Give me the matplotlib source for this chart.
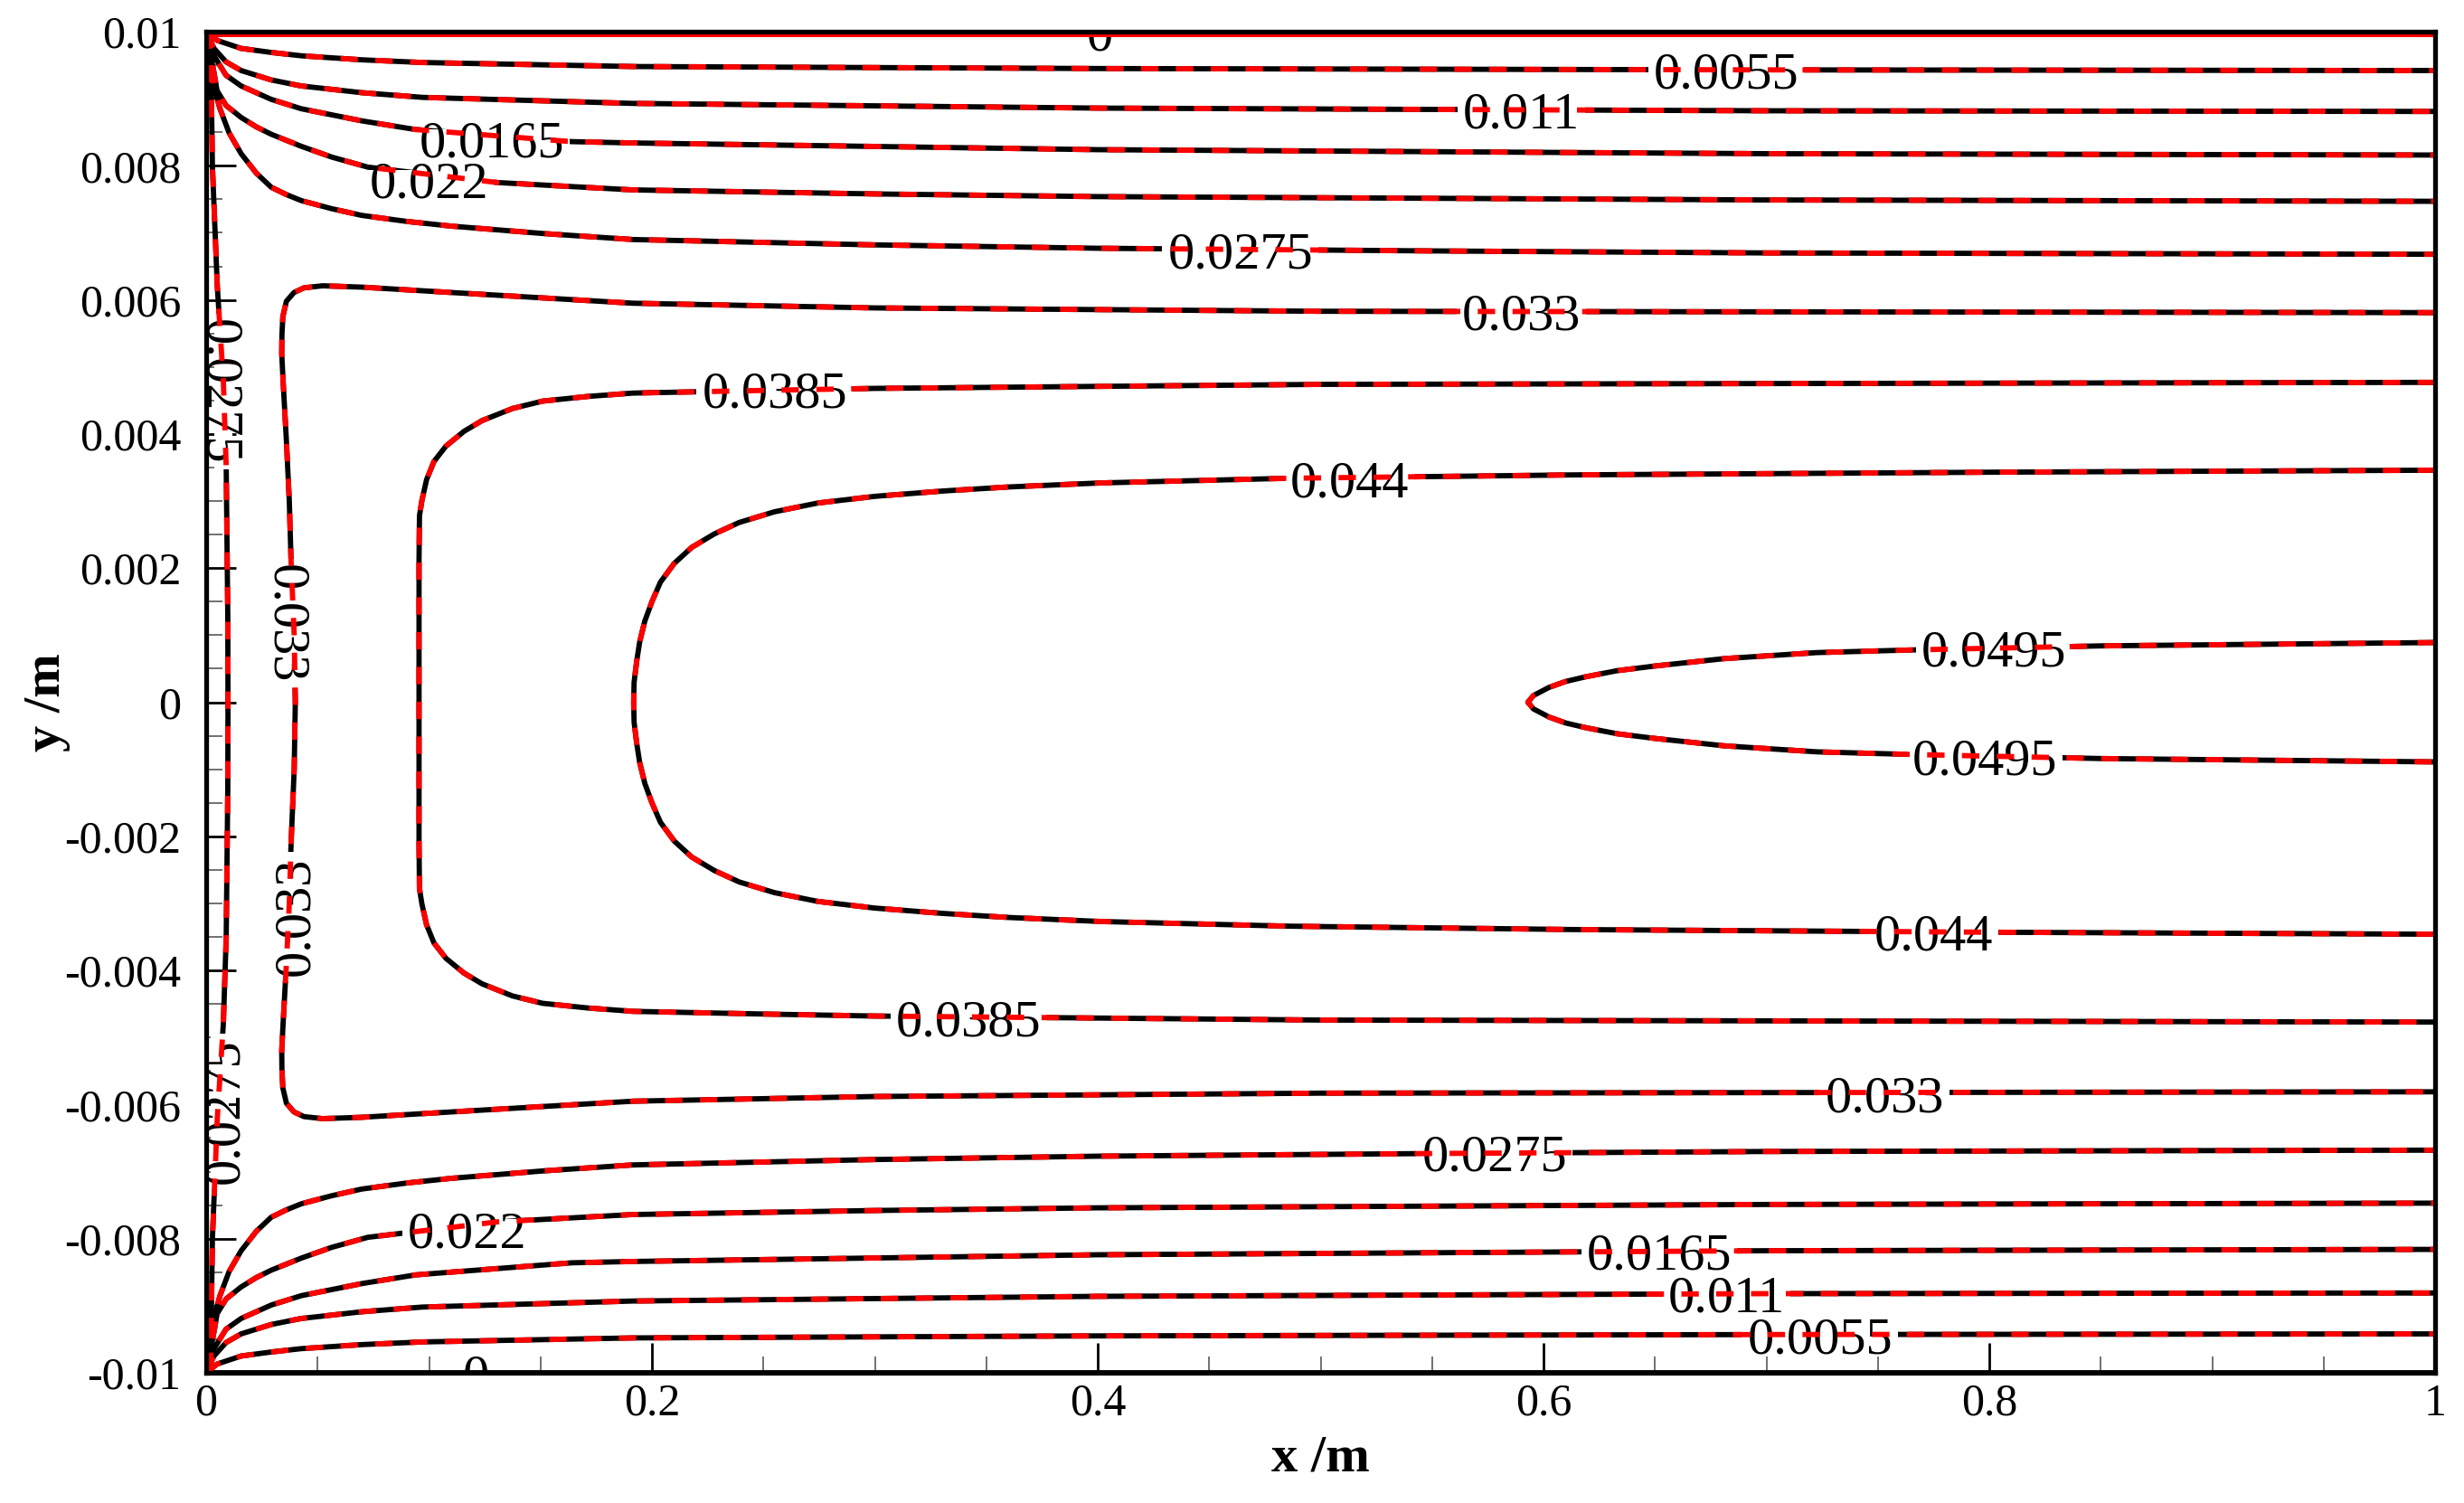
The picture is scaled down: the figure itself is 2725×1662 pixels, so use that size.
import matplotlib
matplotlib.use("Agg")
import matplotlib.pyplot as plt
from matplotlib.patches import Rectangle
from matplotlib.ticker import FixedLocator, MultipleLocator

plt.rcParams['font.family'] = ['Liberation Serif', 'DejaVu Serif']
plt.rcParams['axes.unicode_minus'] = False

# contour levels of the velocity field (m/s)
levels = [0.0, 0.0055, 0.011, 0.0165, 0.022, 0.0275, 0.033, 0.0385, 0.044, 0.0495]

# upper half of each contour line (lower half is the mirror image)
# lines that leave the inlet corner (0, 0.01)
c0055_x = [0.0, 0.0049, 0.0157, 0.0292, 0.0427, 0.0698, 0.097, 0.1915, 0.4, 0.7, 1.0]
c0055_y = [0.0100, 0.00987, 0.00975, 0.00969, 0.00964, 0.00958, 0.00954, 0.00948, 0.00945, 0.00943, 0.00942]
c011_x = [0.0, 0.0035, 0.0089, 0.0157, 0.0292, 0.0427, 0.0698, 0.097, 0.1915, 0.4, 0.7, 1.0]
c011_y = [0.0100, 0.00975, 0.00955, 0.00942, 0.00928, 0.00919, 0.00909, 0.00902, 0.00893, 0.00886, 0.00882, 0.00881]
c0165_x = [0.0, 0.0022, 0.0089, 0.0157, 0.0292, 0.0427, 0.0698, 0.094, 0.164, 0.1915, 0.4, 0.7, 1.0]
c0165_y = [0.0100, 0.00971, 0.00935, 0.00919, 0.00899, 0.00885, 0.00867, 0.00854, 0.00836, 0.00834, 0.00824, 0.00818, 0.00816]
c022_x = [0.0, 0.0018, 0.0035, 0.0049, 0.0089, 0.0157, 0.0225, 0.0292, 0.0427, 0.0563, 0.0725, 0.1306,
          0.1915, 0.3, 0.4, 0.7, 1.0]
c022_y = [0.0100, 0.0097, 0.00939, 0.00912, 0.0089, 0.00872, 0.00858, 0.00847, 0.00829, 0.00813, 0.00798, 0.00775,
          0.00764, 0.00758, 0.00754, 0.00749, 0.00747]
c0275_x = [0.0, 0.0012, 0.0022, 0.0035, 0.0062, 0.0103, 0.0157, 0.0225, 0.0292, 0.036, 0.0427, 0.0563, 0.0698,
           0.090, 0.110, 0.151, 0.1915, 0.3, 0.4, 0.55, 0.7, 1.0]
c0275_y = [0.0100, 0.0098, 0.00953, 0.00917, 0.00885, 0.00849, 0.00818, 0.00789, 0.00768, 0.00757, 0.00748,
           0.00736, 0.00726, 0.00717, 0.0071, 0.00699, 0.0069, 0.00682, 0.00677, 0.00673, 0.0067, 0.00668]

# lines that cross the centreline y = 0 (listed from the centreline upward)
c0275v_x = [0.0098, 0.0097, 0.009, 0.0077, 0.005, 0.0028, 0.002, 0.0]
c0275v_y = [0.0, 0.0013, 0.0035, 0.0048, 0.0062, 0.0080, 0.0099, 0.0100]
c033_x = [0.040, 0.0395, 0.0381, 0.0373, 0.036, 0.0345, 0.0339, 0.034, 0.0344, 0.036, 0.0394, 0.0439, 0.0522,
          0.0698, 0.110, 0.1915, 0.3, 0.5, 1.0]
c033_y = [0.0, 0.0010, 0.0021, 0.0030, 0.0039, 0.0048, 0.0052, 0.00548, 0.00575, 0.00598, 0.00611, 0.00618,
          0.00621, 0.00619, 0.00611, 0.00595, 0.00588, 0.00583, 0.00581]
c0385_x = [0.0955, 0.0955, 0.0957, 0.0968, 0.0989, 0.1022, 0.1076, 0.1157, 0.1238, 0.1374, 0.1509, 0.1712,
           0.1915, 0.25, 0.3, 0.5, 1.0]
c0385_y = [0.0, 0.00211, 0.00278, 0.00301, 0.00332, 0.00359, 0.00382, 0.00404, 0.0042, 0.00438, 0.00449,
           0.00456, 0.00461, 0.00465, 0.00468, 0.00474, 0.00477]
c044_x = [0.1918, 0.1920, 0.1932, 0.1945, 0.1968, 0.2000, 0.2038, 0.2100, 0.2179, 0.2280, 0.2391, 0.2550,
          0.2743, 0.3000, 0.3307, 0.3600, 0.4013, 0.486, 0.613, 0.8, 1.0]
c044_y = [0.0, 0.0003, 0.00062, 0.0009, 0.00121, 0.0015, 0.00179, 0.00207, 0.00231, 0.00251, 0.00268, 0.00284,
          0.00297, 0.00307, 0.00315, 0.00321, 0.00327, 0.00334, 0.00339, 0.00343, 0.00346]
c0495_x = [0.593, 0.5955, 0.6024, 0.610, 0.619, 0.633, 0.650, 0.681, 0.7226, 0.766, 0.85, 1.0]
c0495_y = [0.0, 0.0001, 0.00022, 0.00031, 0.00038, 0.00047, 0.00054, 0.00065, 0.00074, 0.00078, 0.00084, 0.00089]

# wall (zero velocity) line
c0_x = [0.0, 1.0]
c0_y = [0.0100, 0.0100]

# contour labels
lab_text = ['0', '0.0055', '0.011', '0.0165', '0.022', '0.0275', '0.033', '0.0385', '0.044', '0.0495',
            '0.0275', '0.033',
            '0', '0.0055', '0.011', '0.0165', '0.022', '0.0275', '0.033', '0.0385', '0.044', '0.0495',
            '0.0275', '0.033']
lab_x = [0.401, 0.682, 0.590, 0.128, 0.100, 0.464, 0.590, 0.255, 0.513, 0.802,
         0.0077, 0.038,
         0.121, 0.724, 0.682, 0.652, 0.117, 0.578, 0.753, 0.342, 0.775, 0.798,
         0.0062, 0.038]
lab_y = [0.0100, 0.00943, 0.00883, 0.00840, 0.00779, 0.00674, 0.00583, 0.00466, 0.00333, 0.00081,
         0.00463, 0.00117,
         -0.0100, -0.00944, -0.00882, -0.00818, -0.00786, -0.00672, -0.00584, -0.00470, -0.00343, -0.00081,
         -0.0061, -0.0032]
lab_rot = [0, 0, 0, 0, 0, 0, 0, 0, 0, 0,
           -90, -90,
           0, 0, 0, 0, 0, 0, 0, 0, 0, 0,
           90, 90]

xticks = [0, 0.2, 0.4, 0.6, 0.8, 1.0]
xtick_labels = ['0', '0.2', '0.4', '0.6', '0.8', '1']
yticks = [0.01, 0.008, 0.006, 0.004, 0.002, 0, -0.002, -0.004, -0.006, -0.008, -0.01]
ytick_labels = ['0.01', '0.008', '0.006', '0.004', '0.002', '0',
                '-0.002', '-0.004', '-0.006', '-0.008', '-0.01']

fig = plt.figure(figsize=(27.25, 16.62), dpi=100)
ax = fig.add_axes([228 / 2725, 1 - 1518 / 1662, 2465 / 2725, 1483 / 1662])
ax.set_xlim(0, 1)
ax.set_ylim(-0.01, 0.01)

LW = 4.2


def draw(x, y):
    ax.plot(x, y, color='black', lw=LW, zorder=2, solid_capstyle='butt')
    ax.plot(x, y, color='red', lw=LW, ls=(0, (3.3, 3.3)), zorder=4)


open_lines = [(c0055_x, c0055_y), (c011_x, c011_y), (c0165_x, c0165_y),
              (c022_x, c022_y), (c0275_x, c0275_y)]
for cx, cy in open_lines:
    draw(cx, cy)
    draw(cx, [-v for v in cy])

closed_lines = [(c0275v_x, c0275v_y), (c033_x, c033_y), (c0385_x, c0385_y),
                (c044_x, c044_y), (c0495_x, c0495_y)]
for cx, cy in closed_lines:
    fx = cx[::-1] + cx[1:]
    fy = cy[::-1] + [-v for v in cy[1:]]
    draw(fx, fy)

# wall lines
ax.plot(c0_x, c0_y, color='red', lw=8, zorder=4)
ax.plot(c0_x, [-v for v in c0_y], color='black', lw=LW, zorder=2)

texts = []
for s, lx, ly, r in zip(lab_text, lab_x, lab_y, lab_rot):
    t = ax.text(lx, ly, s, fontsize=42, ha='center', va='center_baseline', rotation=r,
                rotation_mode='anchor', zorder=3, clip_on=True)
    texts.append((s, lx, ly, r, t))

# break the black line under each label (the red dashed line runs on through it)
fig.canvas.draw()
inv = ax.transData.inverted()
px_x = 1.0 / 2465
px_y = 0.02 / 1483
for s, lx, ly, r, t in texts:
    if s == '0':
        continue
    bb = t.get_window_extent()
    (x0, y0), (x1, y1) = inv.transform([[bb.x0, bb.y0], [bb.x1, bb.y1]])
    if r == 0:
        ax.add_patch(Rectangle((x0 - 6 * px_x, ly - 11 * px_y), (x1 - x0) + 12 * px_x, 22 * px_y,
                               fc='white', ec='none', zorder=2.5))
    else:
        ax.add_patch(Rectangle((lx - 10 * px_x, y0 - 6 * px_y), 20 * px_x, (y1 - y0) + 12 * px_y,
                               fc='white', ec='none', zorder=2.5))

ax.xaxis.set_major_locator(FixedLocator(xticks))
ax.set_xticklabels(xtick_labels)
ax.yaxis.set_major_locator(FixedLocator(yticks))
ax.set_yticklabels(ytick_labels)
ax.xaxis.set_minor_locator(MultipleLocator(0.05))
ax.yaxis.set_minor_locator(MultipleLocator(0.0005))
ax.tick_params(which='major', direction='in', length=24, width=2, labelsize=36, color='black')
ax.tick_params(which='minor', direction='in', length=13, width=1.3, color='#666666')
ax.tick_params(axis='x', which='major', pad=8)
ax.tick_params(axis='y', which='major', pad=20)
for sp in ax.spines.values():
    sp.set_linewidth(3.8)
    sp.set_zorder(6)

ax.set_xlabel('x /m', fontsize=42, fontweight='bold')
ax.set_ylabel('y /m', fontsize=42, fontweight='bold')
ax.xaxis.label.set_va('center')
ax.xaxis.set_label_coords(0.5, -0.064)
ax.yaxis.label.set_va('center')
ax.yaxis.set_label_coords(-0.0714, 0.5)

fig.savefig('out.png', dpi=100)
